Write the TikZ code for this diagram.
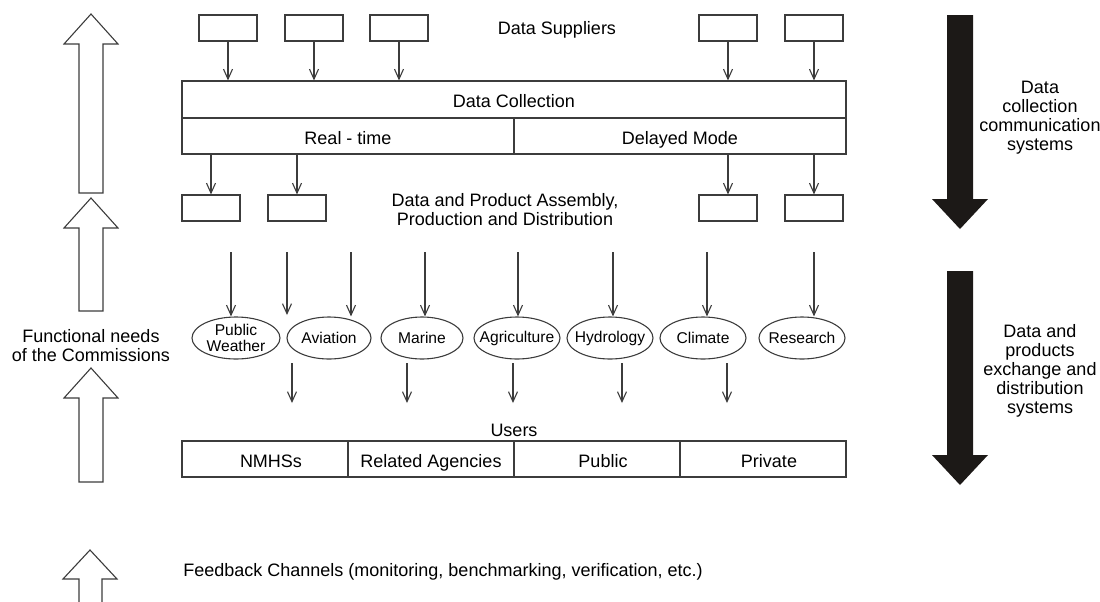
\documentclass[tikz,border=0pt]{standalone}
\usepackage{fontspec}
\setmainfont{Liberation Sans}
\usepackage{tikz}
\usepackage{xcolor}
\usetikzlibrary{shapes.geometric,arrows.meta}

\definecolor{linecol}{RGB}{60,60,60}
\definecolor{ink}{RGB}{28,25,23}

\tikzset{
  lbl/.style={font=\fontsize{9}{9.5}\selectfont, align=center, inner sep=0pt},
  box/.style={draw=linecol, line width=0.55pt, minimum width=29pt, minimum height=13pt, inner sep=0pt},
  cell/.style={draw=linecol, line width=0.55pt, minimum width=166pt, minimum height=18pt, inner sep=0pt, text height=8.6pt, text depth=0.6pt, font=\fontsize{9}{9.5}\selectfont},
  tcell/.style={cell, minimum width=83pt},
  appl/.style={ellipse, draw=linecol, line width=0.55pt, minimum width=43pt, minimum height=21pt, inner xsep=-10pt, inner ysep=-4pt, align=center, font=\fontsize{7.8}{7.6}\selectfont},
  flow/.style={draw=linecol, line width=0.55pt, -{Straight Barb[length=5pt,width=4.5pt]}},
  hollow/.style={draw=linecol, line width=0.55pt, fill=white}
}

\begin{document}
\begin{tikzpicture}[x=0.5pt,y=-0.5pt]
\useasboundingbox (0,0) rectangle (1100,601);

\foreach \tip/\base/\bot in {14/44/193,198/228/311,368/398/482}{ \draw[hollow] (79,\bot) -- (79,\base) -- (64,\base) -- (91,\tip) -- (118,\base) -- (103,\base) -- (103,\bot) -- cycle; }
\draw[hollow] (79,602) -- (79,579) -- (63,579) -- (90,550) -- (117,579) -- (102,579) -- (102,602);

\foreach \top/\base/\tip in {15/199/229,271/455/485}{ \fill[ink] (947,\top) -- (973,\top) -- (973,\base) -- (988,\base) -- (960,\tip) -- (932,\base) -- (947,\base) -- cycle; }

\node[lbl] (sup) at (557,30) {Data Suppliers};
\foreach \x [count=\i] in {228,314,399,728,814}{ \node[box] (s\i) at (\x,28) {}; }

\node[cell, minimum width=332pt, minimum height=18.5pt] (dc) at (514,99.5) {Data Collection};
\node[cell] (rt) at (348,136) {Real - time\hspace{7pt}};
\node[cell] (dm) at (680,136) {Delayed Mode\hspace{13pt}};
\foreach \i in {1,...,5}{ \draw[flow] (s\i) -- (s\i |- dc.north); }

\foreach \x [count=\i] in {211,297,728,814}{ \node[box] (p\i) at (\x,208) {}; \draw[flow] (p\i |- rt.south) -- (p\i); }
\node[lbl] (asm) at (505,210) {Data and Product Assembly,\\Production and Distribution};

\node[lbl] (fn) at (91,346) {Functional needs\\of the Commissions};
\node[lbl] (dccs) at (1040,118) {Data\\collection\\communication\\systems};
\node[lbl] (dpex) at (1040,371) {Data and\\products\\exchange and\\distribution\\systems};

\node[appl, minimum width=44pt] (pw) at (236,338) {Public\\Weather};
\node[appl, minimum width=42pt] (av) at (329,338) {Aviation};
\node[appl, minimum width=41pt] (ma) at (422,338) {Marine};
\node[appl] (ag) at (517,338) {Agriculture};
\node[appl] (hy) at (610,338) {Hydrology};
\node[appl] (cl) at (703,338) {Climate};
\node[appl] (re) at (802,338) {Research};

\foreach \x/\e in {231/pw,351/av,425/ma,518/ag,613/hy,707/cl,814/re}{ \coordinate (t\e) at (\x,252); \draw[flow] (t\e) -- (t\e |- \e.north); }
\coordinate (tfree) at (287,252); \coordinate (hfree) at (287,315);
\draw[flow] (tfree) -- (hfree);

\foreach \x [count=\i] in {292,407,513,622,727}{ \coordinate (d\i) at (\x,363); \coordinate (u\i) at (\x,403); \draw[flow] (d\i) -- (u\i); }

\node[lbl] (usr) at (514,430) {Users};
\node[tcell] (nm) at (265,459) {\hspace{6pt}NMHSs};
\node[tcell] (ra) at (431,459) {Related Agencies};
\node[tcell] (pu) at (597,459) {\hspace{6pt}Public};
\node[tcell] (pr) at (763,459) {\hspace{6pt}Private};

\node[lbl, anchor=west] (fb) at (183,572) {Feedback Channels (monitoring, benchmarking, verification, etc.)};
\end{tikzpicture}
\end{document}
